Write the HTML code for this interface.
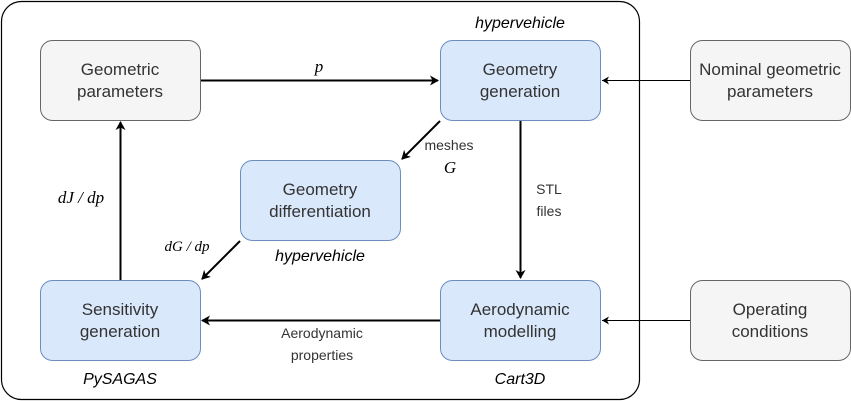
<!DOCTYPE html>
<html><head><meta charset="utf-8"><style>
html,body{margin:0;padding:0;background:#fff;width:851px;height:401px;overflow:hidden}
svg{display:block}
text{font-family:"Liberation Sans",sans-serif}
.b{font-size:17px;fill:#333}
.l{font-size:14px;fill:#333}
.i{font-size:16px;font-style:italic;fill:#000}
.m text{font-family:"Liberation Serif","DejaVu Serif",serif;font-style:italic;font-size:17px;fill:#000}
</style></head><body>
<svg width="851" height="401" viewBox="0 0 851 401">
<defs>
<marker id="a" markerWidth="10" markerHeight="10" refX="8" refY="5" orient="auto" markerUnits="userSpaceOnUse">
<path d="M0,0 L9,5 L0,10 L2.5,5 z" fill="#000"/></marker>
<marker id="s" markerWidth="8" markerHeight="8" refX="7" refY="4" orient="auto" markerUnits="userSpaceOnUse">
<path d="M0,0 L7,4 L0,8 L2,4 z" fill="#000"/></marker>
</defs>
<rect x="1.5" y="1.5" width="638" height="398" rx="20" fill="none" stroke="#000" stroke-width="1.2"/>
<g stroke-width="1">
<rect x="40.5" y="40.5" width="160" height="80" rx="12" fill="#f5f5f5" stroke="#666"/>
<rect x="440.5" y="40.5" width="160" height="80" rx="12" fill="#dae8fc" stroke="#6c8ebf"/>
<rect x="690.5" y="40.5" width="160" height="80" rx="12" fill="#f5f5f5" stroke="#666"/>
<rect x="240.5" y="160.5" width="160" height="80" rx="12" fill="#dae8fc" stroke="#6c8ebf"/>
<rect x="40.5" y="280.5" width="160" height="80" rx="12" fill="#dae8fc" stroke="#6c8ebf"/>
<rect x="440.5" y="280.5" width="160" height="80" rx="12" fill="#dae8fc" stroke="#6c8ebf"/>
<rect x="690.5" y="280.5" width="160" height="80" rx="12" fill="#f5f5f5" stroke="#666"/>
</g>
<g stroke="#000" stroke-width="2" fill="none">
<line x1="201" y1="80.5" x2="438" y2="80.5" marker-end="url(#a)"/>
<line x1="520.5" y1="121" x2="520.5" y2="278" marker-end="url(#a)"/>
<line x1="440" y1="121" x2="402" y2="159" marker-end="url(#a)"/>
<line x1="240" y1="241" x2="202" y2="279" marker-end="url(#a)"/>
<line x1="440" y1="320.5" x2="202" y2="320.5" marker-end="url(#a)"/>
<line x1="120.5" y1="280" x2="120.5" y2="122" marker-end="url(#a)"/>
</g>
<g stroke="#000" stroke-width="1" fill="none">
<line x1="690" y1="80.5" x2="602" y2="80.5" marker-end="url(#s)"/>
<line x1="690" y1="320.5" x2="602" y2="320.5" marker-end="url(#s)"/>
</g>
<g class="b" text-anchor="middle">
<text x="120" y="75">Geometric</text><text x="120" y="97">parameters</text>
<text x="520" y="75">Geometry</text><text x="520" y="97">generation</text>
<text x="770" y="75">Nominal geometric</text><text x="770" y="97">parameters</text>
<text x="320" y="195">Geometry</text><text x="320" y="217">differentiation</text>
<text x="120" y="315">Sensitivity</text><text x="120" y="337">generation</text>
<text x="520" y="315">Aerodynamic</text><text x="520" y="337">modelling</text>
<text x="770" y="315">Operating</text><text x="770" y="337">conditions</text>
</g>
<g class="l" text-anchor="middle">
<text x="449" y="150">meshes</text>
<text x="549" y="194">STL</text><text x="549" y="216">files</text>
<text x="322" y="338">Aerodynamic</text><text x="322" y="360">properties</text>
</g>
<g class="m" text-anchor="middle">
<text x="319" y="72">p</text>
<text x="450" y="173">G</text>
<text x="81" y="203">dJ / dp</text>
<text x="187" y="251" style="font-size:15px">dG / dp</text>
</g>
<g class="i" text-anchor="middle">
<text x="520" y="28">hypervehicle</text>
<text x="320" y="261">hypervehicle</text>
<text x="120" y="384">PySAGAS</text>
<text x="520" y="384">Cart3D</text>
</g>
</svg>
</body></html>
